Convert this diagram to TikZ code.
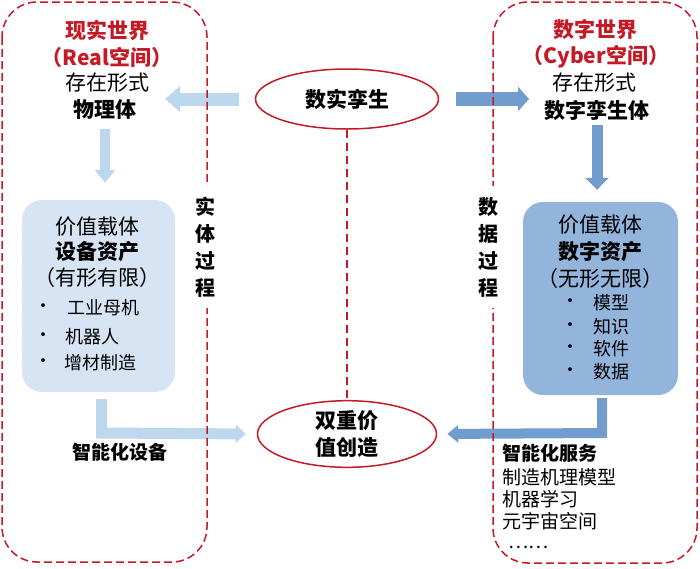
\documentclass[tikz,border=0pt]{standalone}
\usepackage{fontspec}
\setmainfont{Noto Sans CJK SC}
\usetikzlibrary{arrows.meta,shapes.geometric}
\definecolor{darkred}{RGB}{196,26,38}
\definecolor{lightblue}{RGB}{189,215,238}
\definecolor{midblue}{RGB}{112,157,206}
\definecolor{paleblue}{RGB}{214,228,243}
\definecolor{boxblue}{RGB}{147,180,219}
\begin{document}
\begin{tikzpicture}[x=1pt, y=-1pt,
    world/.style={draw=darkred, line width=1.5pt, dash pattern=on 8pt off 4pt, rounded corners=35pt},
    bubble/.style={ellipse, draw=darkred, line width=1.5pt, inner sep=0pt, align=center, font=\fontsize{21}{27}\selectfont\bfseries},
    carrier/.style={rounded corners=20pt, inner sep=0pt},
    title/.style={text=darkred, font=\fontsize{21}{25}\selectfont\bfseries},
    lbl/.style={font=\fontsize{21}{25}\selectfont},
    blbl/.style={font=\fontsize{21}{25}\selectfont\bfseries},
    sbold/.style={font=\fontsize{19}{23}\selectfont\bfseries},
    item/.style={anchor=west, inner sep=0pt, font=\fontsize{18}{22}\selectfont},
    dot/.style={inner sep=0pt, font=\fontsize{18}{22}\selectfont},
    proc/.style={fill=white, align=center, inner xsep=2pt, inner ysep=11pt, font=\fontsize{20}{27}\selectfont\bfseries},
    svc/.style={anchor=west, inner sep=0pt, font=\fontsize{19}{23}\selectfont}
]
\useasboundingbox (0,0) rectangle (700,568);

% value carriers
\node[carrier, fill=paleblue, minimum width=153pt, minimum height=192pt] (carrierL) at (98.5,296) {};
\node[carrier, fill=boxblue, minimum width=155pt, minimum height=193pt] (carrierR) at (600.5,298.5) {};

% ellipses
\node[bubble, minimum width=183pt, minimum height=60pt] (twin) at (347,99) {数实孪生};
\node[bubble, minimum width=179pt, minimum height=63pt] (value) at (347,434) {双重价\\值创造};

% real world
\node[title] (realname) at (107,30) {现实世界};
\node[title] (realspace) at (107,57) {（Real空间）};
\node[lbl] (realform) at (107,83) {存在形式};
\node[blbl] (phys) at (105,110) {物理体};
\node[lbl] (valL) at (97,227) {价值载体};
\node[blbl] (assetL) at (97,252) {设备资产};
\node[lbl] (tangible) at (97,278) {（有形有限）};
\node[dot] (dotL1) at (43,308) {·};
\node[dot] (dotL2) at (43,337) {·};
\node[dot] (dotL3) at (43,363) {·};
\node[item] (machine) at (67,308) {工业母机};
\node[item] (robot) at (65,337) {机器人};
\node[item] (additive) at (64,363) {增材制造};
\node[sbold] (smartdev) at (120,452) {智能化设备};

% cyber world
\node[title] (cybername) at (595,30) {数字世界};
\node[title] (cyberspace) at (596,57) {（Cyber空间）};
\node[lbl] (cyberform) at (594,83) {存在形式};
\node[blbl] (twinbody) at (597,110) {数字孪生体};
\node[lbl] (valR) at (600,225) {价值载体};
\node[blbl] (assetR) at (600,252) {数字资产};
\node[lbl] (intangible) at (600,279) {（无形无限）};
\node[dot] (dotR1) at (570,303) {·};
\node[dot] (dotR2) at (570,327) {·};
\node[dot] (dotR3) at (570,349) {·};
\node[dot] (dotR4) at (570,372) {·};
\node[item] (model) at (593,303) {模型};
\node[item] (knowledge) at (593,327) {知识};
\node[item] (software) at (593,349) {软件};
\node[item] (data) at (593,372) {数据};
\node[svc, font=\fontsize{19}{23}\selectfont\bfseries] (smartsvc) at (502,453) {智能化服务};
\node[svc] (mech) at (502,477) {制造机理模型};
\node[svc] (learn) at (502,499) {机器学习};
\node[svc] (meta) at (502,521) {元宇宙空间};
\node[svc] (etc) at (508,547) {……};

% arrows
\coordinate (tl) at (165,99);
\coordinate (tr) at (529,99);
\coordinate (bl) at (101.5,433);
\coordinate (br) at (602,433);
\draw[lightblue, line width=13pt, -{Triangle[length=15pt,width=25pt]}, shorten <=16pt] (twin.west) -- (tl);
\draw[midblue, line width=14pt, -{Triangle[length=11pt,width=24pt]}, shorten <=17pt] (twin.east) -- (tr);
\draw[lightblue, line width=10pt, -{Triangle[length=13pt,width=20pt]}, shorten <=5pt, shorten >=17pt] (phys.south) -- (phys.south |- carrierL.north);
\draw[midblue, line width=11pt, -{Triangle[length=12pt,width=23pt]}, shorten <=1pt, shorten >=12pt] (twinbody.south) -- (twinbody.south |- carrierR.north);
\draw[lightblue, line width=11pt, line join=miter, -{Triangle[length=10pt,width=18pt]}, shorten <=7pt, shorten >=11pt] (bl |- carrierL.south) -- (bl) -- (value.west);
\draw[midblue, line width=10pt, line join=miter, -{Triangle[length=11pt,width=17pt]}, shorten <=3pt, shorten >=10pt] (br |- carrierR.south) -- (br) -- (value.east);

% worlds
\draw[world] (2,2) rectangle (207,562);
\draw[world] (493,2) rectangle (697,563);
\draw[darkred, line width=1.2pt, dash pattern=on 8pt off 5pt] (twin.south) -- (value.north);
\node[proc] (realproc) at (205,247) {实\\体\\过\\程};
\node[proc] (dataproc) at (488,247) {数\\据\\过\\程};
\end{tikzpicture}
\end{document}
